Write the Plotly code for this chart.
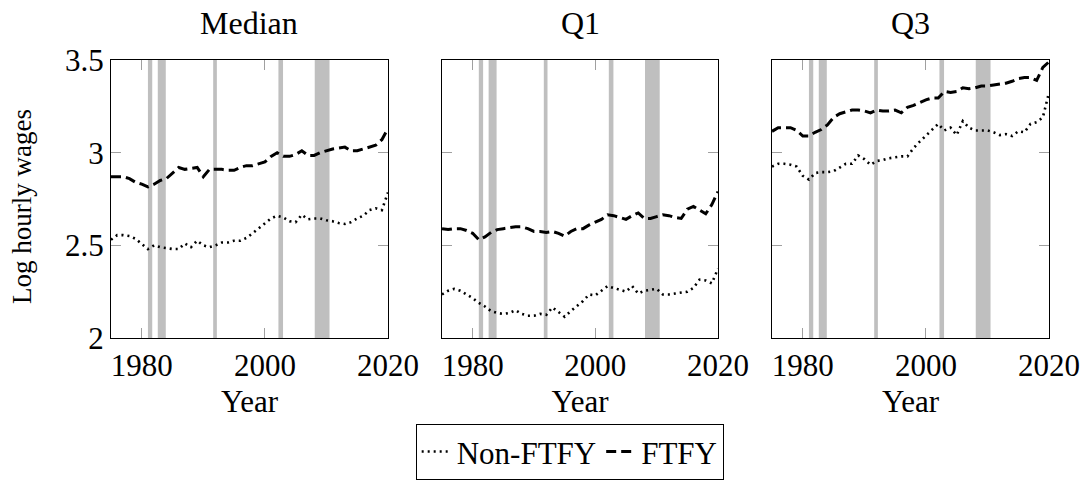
import plotly.graph_objects as go

years = list(range(1975, 2021))

median_non = [2.53, 2.555, 2.555, 2.55, 2.535, 2.51, 2.48, 2.50, 2.49, 2.485,
              2.48, 2.48, 2.51, 2.49, 2.525, 2.50, 2.49, 2.50, 2.515, 2.515,
              2.525, 2.525, 2.54, 2.565, 2.59, 2.62, 2.645, 2.66, 2.65, 2.63,
              2.625, 2.665, 2.64, 2.645, 2.645, 2.635, 2.63, 2.62, 2.615, 2.625,
              2.645, 2.66, 2.69, 2.70, 2.69, 2.785]
median_ftfy = [2.87, 2.87, 2.87, 2.86, 2.84, 2.83, 2.815, 2.83, 2.85, 2.86,
               2.89, 2.92, 2.91, 2.915, 2.92, 2.87, 2.91, 2.91, 2.91, 2.905,
               2.905, 2.92, 2.93, 2.93, 2.94, 2.95, 2.98, 3.0, 2.98, 2.98,
               2.99, 3.01, 2.985, 2.985, 3.0, 3.01, 3.02, 3.025, 3.03, 3.01,
               3.01, 3.02, 3.03, 3.04, 3.07, 3.13]
q1_non = [2.235, 2.255, 2.265, 2.255, 2.235, 2.215, 2.19, 2.17, 2.145, 2.135,
          2.13, 2.135, 2.15, 2.13, 2.12, 2.12, 2.13, 2.125, 2.165, 2.14,
          2.115, 2.145, 2.17, 2.2, 2.235, 2.23, 2.255, 2.28, 2.27, 2.26,
          2.25, 2.28, 2.24, 2.255, 2.26, 2.265, 2.235, 2.235, 2.24, 2.245,
          2.25, 2.27, 2.315, 2.31, 2.295, 2.375]
q1_ftfy = [2.59, 2.585, 2.59, 2.59, 2.58, 2.565, 2.53, 2.545, 2.57, 2.585,
           2.59, 2.595, 2.60, 2.60, 2.59, 2.575, 2.575, 2.57, 2.575, 2.565,
           2.55, 2.575, 2.59, 2.59, 2.61, 2.625, 2.64, 2.665, 2.66, 2.65,
           2.64, 2.66, 2.675, 2.645, 2.645, 2.655, 2.665, 2.66, 2.65, 2.645,
           2.695, 2.71, 2.69, 2.67, 2.72, 2.79]
q3_non = [2.925, 2.94, 2.94, 2.935, 2.925, 2.875, 2.855, 2.89, 2.895, 2.895,
          2.90, 2.92, 2.94, 2.94, 2.985, 2.965, 2.935, 2.955, 2.96, 2.97,
          2.975, 2.98, 2.98, 3.025, 3.06, 3.09, 3.12, 3.155, 3.12, 3.135,
          3.095, 3.17, 3.135, 3.12, 3.12, 3.12, 3.11, 3.095, 3.10, 3.09,
          3.115, 3.11, 3.155, 3.165, 3.19, 3.325]
q3_ftfy = [3.115, 3.135, 3.135, 3.135, 3.12, 3.09, 3.09, 3.11, 3.125, 3.15,
           3.19, 3.21, 3.22, 3.23, 3.23, 3.225, 3.215, 3.23, 3.225, 3.225,
           3.23, 3.215, 3.245, 3.255, 3.27, 3.285, 3.295, 3.295, 3.33, 3.325,
           3.33, 3.35, 3.345, 3.35, 3.36, 3.36, 3.365, 3.37, 3.375, 3.385,
           3.40, 3.405, 3.405, 3.39, 3.46, 3.49]

recessions = [(1981.0, 1981.7), (1982.6, 1983.9), (1991.6, 1992.2),
              (2002.2, 2002.95), (2008.1, 2010.5)]

panel_titles = ["Median", "Q1", "Q3"]
x_ticks = [1980, 2000, 2020]
y_ticks = [2, 2.5, 3, 3.5]
y_tick_labels = ["2", "2.5", "3", "3.5"]

panels = [(median_non, median_ftfy), (q1_non, q1_ftfy), (q3_non, q3_ftfy)]

FONT = "Liberation Serif"
FS_TICK = 31
FS_TITLE = 32
FS_YT = 27
FS_LEG = 31

fig = go.Figure()
domains = [[0.0, 0.2953], [0.3529, 0.6471], [0.7047, 1.0]]

for i, (non, ftfy) in enumerate(panels):
    xa = "x" if i == 0 else f"x{i+1}"
    ya = "y" if i == 0 else f"y{i+1}"
    fig.add_trace(go.Scatter(x=years, y=non, mode="lines", xaxis=xa, yaxis=ya,
                             name="Non-FTFY", showlegend=(i == 0),
                             line=dict(color="black", width=2.6, dash="2px,4px")))
    fig.add_trace(go.Scatter(x=years, y=ftfy, mode="lines", xaxis=xa, yaxis=ya,
                             name="FTFY", showlegend=(i == 0),
                             line=dict(color="black", width=3, dash="10px,5px")))
    for (a, b) in recessions:
        fig.add_shape(type="rect", xref=xa, yref=f"{ya} domain", x0=a, x1=b, y0=0, y1=1,
                      fillcolor="#bfbfbf", line=dict(width=0), layer="below")
    axis_common = dict(showline=True, linecolor="black", linewidth=1, mirror="ticks",
                       ticks="inside", ticklen=10, tickcolor="#a0a0a0", tickwidth=1,
                       showgrid=False, zeroline=False, automargin=False,
                       tickfont=dict(family=FONT, size=FS_TICK, color="black"))
    xkey = "xaxis" if i == 0 else f"xaxis{i+1}"
    ykey = "yaxis" if i == 0 else f"yaxis{i+1}"
    fig.update_layout(**{
        xkey: dict(domain=domains[i], anchor=ya, range=[1975, 2020],
                   tickvals=x_ticks, ticktext=[str(t) for t in x_ticks],
                   title=dict(text="Year", font=dict(family=FONT, size=FS_TICK, color="black"),
                              standoff=8),
                   **axis_common),
        ykey: dict(domain=[0, 1], anchor=xa, range=[2, 3.5], tickvals=y_ticks,
                   ticktext=y_tick_labels if i == 0 else [""] * 4,
                   showticklabels=(i == 0),
                   **axis_common),
    })
    fig.add_annotation(text=panel_titles[i], xref="paper", yref="paper",
                       x=(domains[i][0] + domains[i][1]) / 2, y=1.0, yshift=17,
                       xanchor="center", yanchor="bottom", showarrow=False,
                       font=dict(family=FONT, size=FS_TITLE, color="black"))

fig.add_annotation(text="Log hourly wages", xref="paper", yref="paper",
                   x=-0.0949, y=0.5, yshift=-7, textangle=-90, xanchor="center",
                   yanchor="middle", showarrow=False,
                   font=dict(family=FONT, size=FS_YT, color="black"))

fig.update_layout(
    width=1085, height=482,
    margin=dict(l=111, r=36, t=60, b=144, autoexpand=False),
    plot_bgcolor="white", paper_bgcolor="white",
    font=dict(family=FONT, size=FS_TICK, color="black"),
    legend=dict(orientation="h", x=0.489, xanchor="center", y=-0.51, yanchor="bottom",
                bordercolor="black", borderwidth=1, bgcolor="white",
                font=dict(family=FONT, size=FS_LEG, color="black"),
                itemwidth=30, tracegroupgap=0),
)

fig.write_html("out.html", config={"displayModeBar": False},
               post_script="document.body.style.margin='0';document.body.style.overflow='hidden';")
